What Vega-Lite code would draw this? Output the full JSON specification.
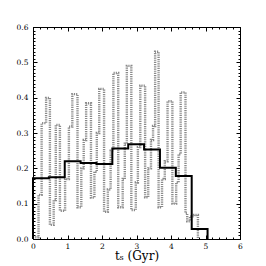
{
  "$schema": "https://vega.github.io/schema/vega-lite/v6.json",
  "width": 207,
  "height": 212,
  "autosize": "none",
  "padding": {"left": 33, "top": 27, "right": 26, "bottom": 27},
  "background": "white",
  "config": {
    "view": {"stroke": "black", "strokeWidth": 1},
    "axis": {"grid": false, "domainColor": "black", "tickColor": "black", "labelColor": "black", "titleColor": "black", "labelFont": "DejaVu Serif", "titleFont": "DejaVu Serif"}
  },
  "datasets": {
    "gray": [
      {"t": 0.00, "f": 0.005}, {"t": 0.16, "f": 0.125}, {"t": 0.25, "f": 0.328}, {"t": 0.38, "f": 0.399},
      {"t": 0.49, "f": 0.04}, {"t": 0.60, "f": 0.11}, {"t": 0.66, "f": 0.323}, {"t": 0.78, "f": 0.08},
      {"t": 0.93, "f": 0.17}, {"t": 1.04, "f": 0.318}, {"t": 1.14, "f": 0.41}, {"t": 1.29, "f": 0.09},
      {"t": 1.40, "f": 0.20}, {"t": 1.47, "f": 0.28}, {"t": 1.54, "f": 0.384}, {"t": 1.68, "f": 0.117},
      {"t": 1.78, "f": 0.19}, {"t": 1.85, "f": 0.30}, {"t": 1.92, "f": 0.425}, {"t": 2.06, "f": 0.077},
      {"t": 2.17, "f": 0.14}, {"t": 2.25, "f": 0.25}, {"t": 2.33, "f": 0.47}, {"t": 2.47, "f": 0.09},
      {"t": 2.60, "f": 0.17}, {"t": 2.66, "f": 0.27}, {"t": 2.72, "f": 0.49}, {"t": 2.85, "f": 0.082},
      {"t": 2.98, "f": 0.16}, {"t": 3.04, "f": 0.26}, {"t": 3.11, "f": 0.434}, {"t": 3.25, "f": 0.118},
      {"t": 3.34, "f": 0.20}, {"t": 3.42, "f": 0.28}, {"t": 3.48, "f": 0.32}, {"t": 3.54, "f": 0.53},
      {"t": 3.64, "f": 0.09}, {"t": 3.74, "f": 0.17}, {"t": 3.82, "f": 0.22}, {"t": 3.90, "f": 0.39},
      {"t": 4.04, "f": 0.10}, {"t": 4.15, "f": 0.16}, {"t": 4.22, "f": 0.24}, {"t": 4.28, "f": 0.415},
      {"t": 4.42, "f": 0.073}, {"t": 4.47, "f": 0.05}, {"t": 4.55, "f": 0.064}, {"t": 4.67, "f": 0.068},
      {"t": 4.78, "f": 0.0}
    ],
    "black": [
      {"t": 0.00, "f": 0.0}, {"t": 0.00, "f": 0.172}, {"t": 0.46, "f": 0.175}, {"t": 0.92, "f": 0.22},
      {"t": 1.38, "f": 0.215}, {"t": 1.84, "f": 0.212}, {"t": 2.30, "f": 0.256}, {"t": 2.76, "f": 0.268},
      {"t": 3.22, "f": 0.253}, {"t": 3.68, "f": 0.202}, {"t": 4.14, "f": 0.178}, {"t": 4.60, "f": 0.028},
      {"t": 5.06, "f": 0.0}
    ]
  },
  "layer": [
    {
      "data": {"name": "gray"},
      "mark": {"type": "line", "interpolate": "step-after", "color": "#8a8a8a", "strokeWidth": 2.4, "strokeDash": [1.2, 1]},
      "encoding": {
        "x": {"field": "t", "type": "quantitative", "scale": {"domain": [0, 6], "nice": false},
          "axis": {"orient": "bottom", "title": "tₛ (Gyr)", "titleFontSize": 12, "titleFontWeight": "normal", "titlePadding": 1,
            "values": [0,0.2,0.4,0.6,0.8,1,1.2,1.4,1.6,1.8,2,2.2,2.4,2.6,2.8,3,3.2,3.4,3.6,3.8,4,4.2,4.4,4.6,4.8,5,5.2,5.4,5.6,5.8,6],
            "labelExpr": "abs(datum.value - round(datum.value)) < 1e-6 ? format(datum.value, 'd') : ''",
            "labelFontSize": 7.5, "labelPadding": 7, "labelFlush": false,
            "tickSize": {"condition": {"test": "abs(datum.value - round(datum.value)) < 1e-6", "value": -4}, "value": -2}}},
        "y": {"field": "f", "type": "quantitative", "scale": {"domain": [0, 0.6], "nice": false},
          "axis": {"orient": "left", "title": null,
            "values": [0,0.01,0.02,0.03,0.04,0.05,0.06,0.07,0.08,0.09,0.1,0.11,0.12,0.13,0.14,0.15,0.16,0.17,0.18,0.19,0.2,0.21,0.22,0.23,0.24,0.25,0.26,0.27,0.28,0.29,0.3,0.31,0.32,0.33,0.34,0.35,0.36,0.37,0.38,0.39,0.4,0.41,0.42,0.43,0.44,0.45,0.46,0.47,0.48,0.49,0.5,0.51,0.52,0.53,0.54,0.55,0.56,0.57,0.58,0.59,0.6],
            "labelExpr": "abs(datum.value*10 - round(datum.value*10)) < 1e-6 ? format(datum.value, '.1f') : ''",
            "labelFontSize": 7.5, "labelPadding": 9, "labelFlush": false,
            "tickSize": {"condition": {"test": "abs(datum.value*10 - round(datum.value*10)) < 1e-6", "value": -4}, "value": -2}}}
      }
    },
    {
      "data": {"name": "black"},
      "mark": {"type": "line", "interpolate": "step-after", "color": "black", "strokeWidth": 2},
      "encoding": {
        "x": {"field": "t", "type": "quantitative",
          "axis": {"orient": "top", "title": null, "labels": false,
            "values": [0,0.2,0.4,0.6,0.8,1,1.2,1.4,1.6,1.8,2,2.2,2.4,2.6,2.8,3,3.2,3.4,3.6,3.8,4,4.2,4.4,4.6,4.8,5,5.2,5.4,5.6,5.8,6],
            "tickSize": {"condition": {"test": "abs(datum.value - round(datum.value)) < 1e-6", "value": -4}, "value": -2}}},
        "y": {"field": "f", "type": "quantitative",
          "axis": {"orient": "right", "title": null, "labels": false,
            "values": [0,0.01,0.02,0.03,0.04,0.05,0.06,0.07,0.08,0.09,0.1,0.11,0.12,0.13,0.14,0.15,0.16,0.17,0.18,0.19,0.2,0.21,0.22,0.23,0.24,0.25,0.26,0.27,0.28,0.29,0.3,0.31,0.32,0.33,0.34,0.35,0.36,0.37,0.38,0.39,0.4,0.41,0.42,0.43,0.44,0.45,0.46,0.47,0.48,0.49,0.5,0.51,0.52,0.53,0.54,0.55,0.56,0.57,0.58,0.59,0.6],
            "tickSize": {"condition": {"test": "abs(datum.value*10 - round(datum.value*10)) < 1e-6", "value": -4}, "value": -2}}}
      }
    }
  ],
  "resolve": {"axis": {"x": "independent", "y": "independent"}}
}
